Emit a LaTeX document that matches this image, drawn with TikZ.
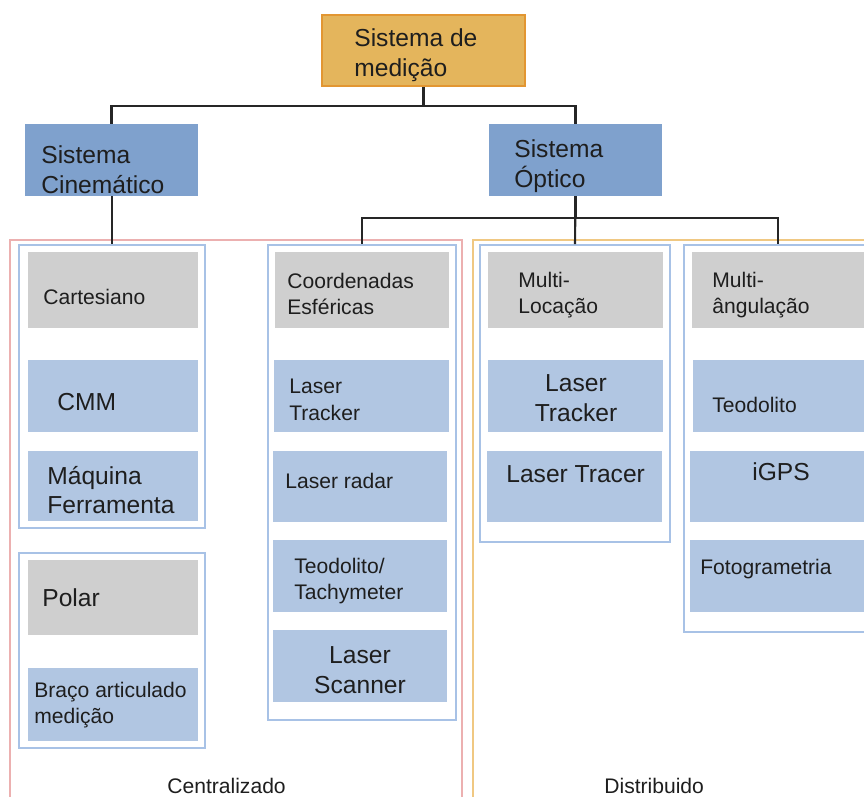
\documentclass[tikz,border=0pt]{standalone}
\usepackage{fontspec}
\setmainfont{Liberation Sans}
\usetikzlibrary{fit}

\definecolor{laranja}{RGB}{228,181,92}
\definecolor{laranjaborda}{RGB}{226,150,50}
\definecolor{azulescuro}{RGB}{127,161,205}
\definecolor{azulclaro}{RGB}{177,198,226}
\definecolor{cinza}{RGB}{207,207,207}
\definecolor{azulgrupo}{RGB}{168,194,230}
\definecolor{rosa}{RGB}{236,176,176}
\definecolor{amarelo}{RGB}{240,200,130}
\definecolor{texto}{RGB}{30,30,30}

\begin{document}
\begin{tikzpicture}[x=0.02cm, y=-0.02cm, text=texto,
  caixa/.style={rectangle, inner sep=0pt},
  raiz/.style={caixa, fill=laranja, draw=laranjaborda, line width=1.2pt},
  topo/.style={caixa, fill=azulescuro},
  item/.style={caixa, fill=azulclaro},
  tipo/.style={caixa, fill=cinza},
  grupo/.style={caixa, draw=azulgrupo, line width=0.9pt},
  grande/.style={inner sep=0pt, align=left, font=\fontsize{14}{17}\selectfont},
  pequeno/.style={inner sep=0pt, align=left, font=\fontsize{12}{15}\selectfont},
  linha/.style={draw=black!85, line width=1.2pt}]
  \clip (0,0) rectangle (864,796);

  % Areas
  \node[caixa, draw=rosa, line width=0.8pt, fit={(10,240) (462,810)}] (central) {};
  \node[caixa, draw=amarelo, line width=0.8pt, fit={(473,240) (890,810)}] (distrib) {};
  \node[pequeno, anchor=west] (tcentral) at (167,786) {Centralizado};
  \node[pequeno, anchor=west] (tdistrib) at (604,786) {Distribuido};

  % Nivel 1 e 2
  \node[raiz, fit={(322,15) (525,86)}] (sis) {};
  \node[grande, anchor=west] (tsis) at (354,55) {Sistema de\\medição};
  \node[topo, fit={(25,124) (198,196)}] (cin) {};
  \node[grande, anchor=west] (tcin) at (41,170) {Sistema\\Cinemático};
  \node[topo, fit={(489,124) (662,196)}] (opt) {};
  \node[grande, anchor=west] (topt) at (514,166) {Sistema\\Óptico};

  % Grupos
  \node[grupo, fit={(19,245) (205,528)}] (g1) {};
  \node[grupo, fit={(19,553) (205,748)}] (g2) {};
  \node[grupo, fit={(268,245) (456,720)}] (g3) {};
  \node[grupo, fit={(480,245) (670,542)}] (g4) {};
  \node[grupo, fit={(684,245) (872,632)}] (g5) {};

  % Cartesiano
  \node[tipo, fit={(28,252) (198,328)}] (cart) {};
  \node[pequeno, anchor=west] (tcart) at (43,297) {Cartesiano};
  \node[item, fit={(28,360) (198,432)}] (cmm) {};
  \node[grande, anchor=west] (tcmm) at (57,402) {CMM};
  \node[item, fit={(28,451) (198,521)}] (maq) {};
  \node[grande, anchor=west] (tmaq) at (47,490) {Máquina\\Ferramenta};

  % Polar
  \node[tipo, fit={(28,560) (198,635)}] (polar) {};
  \node[grande, anchor=west] (tpolar) at (42,598) {Polar};
  \node[item, fit={(28,668) (198,741)}] (braco) {};
  \node[pequeno, anchor=west] (tbraco) at (34,705) {Braço articulado\\medição};

  % Coordenadas esfericas
  \node[tipo, fit={(275,252) (449,328)}] (esf) {};
  \node[pequeno, anchor=west] (tesf) at (287,294) {Coordenadas\\Esféricas};
  \node[item, fit={(274,360) (449,432)}] (trk1) {};
  \node[pequeno, anchor=west] (ttrk1) at (289,400) {Laser\\Tracker};
  \node[item, fit={(273,451) (447,522)}] (radar) {};
  \node[pequeno, anchor=west] (tradar) at (285,481) {Laser radar};
  \node[item, fit={(273,540) (447,612)}] (teo1) {};
  \node[pequeno, anchor=west] (tteo1) at (294,581) {Teodolito/\\Tachymeter};
  \node[item, fit={(273,630) (447,702)}] (scan) {};
  \node[grande, align=center] (tscan) at (360,670) {Laser\\Scanner};

  % Multi-locacao
  \node[tipo, fit={(488,252) (663,328)}] (loc) {};
  \node[pequeno, anchor=west] (tloc) at (518,295) {Multi-\\Locação};
  \node[item, fit={(488,360) (663,432)}] (trk2) {};
  \node[grande, align=center] (ttrk2) at (576,398) {Laser\\Tracker};
  \node[item, fit={(487,451) (662,522)}] (tracer) {};
  \node[grande, anchor=west] (ttracer) at (506,474) {Laser Tracer};

  % Multi-angulacao
  \node[tipo, fit={(692,252) (872,328)}] (ang) {};
  \node[pequeno, anchor=west] (tang) at (712,295) {Multi-\\ângulação};
  \node[item, fit={(693,360) (872,432)}] (teo2) {};
  \node[pequeno, anchor=west] (tteo2) at (712,405) {Teodolito};
  \node[item, fit={(690,451) (872,522)}] (igps) {};
  \node[grande, anchor=west] (tigps) at (752,472) {iGPS};
  \node[item, fit={(690,540) (872,612)}] (foto) {};
  \node[pequeno, anchor=west] (tfoto) at (700,569) {Fotogrametria};

  % Ligacoes
  \draw[linha] (sis.south) -- ++(0,19) -| (cin.north);
  \draw[linha] (sis.south) -- ++(0,19) -| (opt.north);
  \draw[linha] (g1.north |- cin.south) -- (g1.north);
  \draw[linha] (opt.south) -- ++(0,22) -| (g3.north);
  \draw[linha] (opt.south) -- (g4.north);
  \draw[linha] (opt.south) -- ++(0,22) -| (g5.north);
\end{tikzpicture}
\end{document}
